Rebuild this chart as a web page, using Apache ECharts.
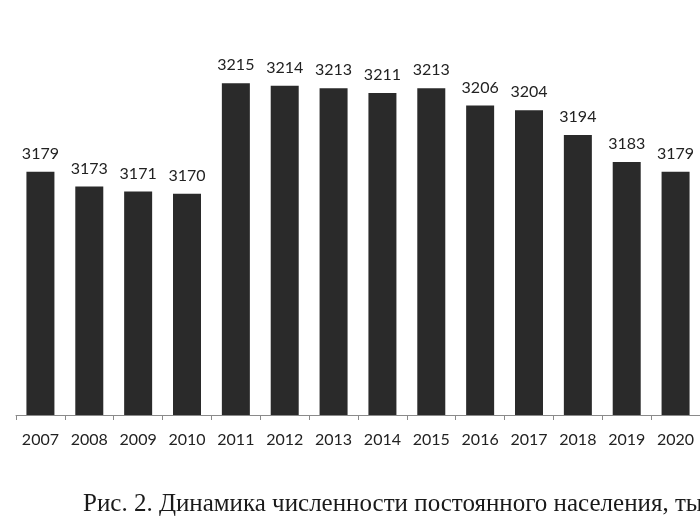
<!DOCTYPE html>
<html>
<head>
<meta charset="UTF-8">
<title>Численность населения</title>
<script src="https://cdn.jsdelivr.net/npm/echarts@6/dist/echarts.min.js"></script>
<style>
  html, body { margin: 0; padding: 0; background: #fff; }
  #chart { width: 700px; height: 530px; }
</style>
</head>
<body>
<div id="chart"></div>
<script type="text/javascript">
	// годы и численность, тыс. чел.
	var years = ['2007','2008','2009','2010','2011','2012','2013','2014','2015','2016','2017','2018','2019','2020'];
	var population = [3179, 3173, 3171, 3170, 3215, 3214, 3213, 3211, 3213, 3206, 3204, 3194, 3183, 3179];
	var caption = 'Рис. 2. Динамика численности постоянного населения, тыс. чел.';

	var chart = echarts.init(document.getElementById('chart'));
	var option = {
		animation: false,
		title: {
			text: caption,
			left: 78,
			top: 487,
			textStyle: {
				fontFamily: 'Liberation Serif',
				fontSize: 25,
				fontWeight: 'normal',
				color: '#1a1a1a'
			}
		},
		grid: {
			left: 16,
			top: 71,
			width: 686,
			bottom: 115,
			containLabel: false
		},
		xAxis: {
			type: 'category',
			data: years,
			axisLine: { lineStyle: { color: '#8a8a8a', width: 1 } },
			axisTick: { show: true, length: 5, lineStyle: { color: '#8a8a8a' } },
			axisLabel: {
				fontFamily: 'Lato',
				fontSize: 16,
				color: '#222',
				margin: 17
			}
		},
		yAxis: {
			type: 'value',
			min: 3080,
			max: 3220,
			show: false,
			splitLine: { show: false }
		},
		series: [{
			type: 'bar',
			data: population,
			barWidth: 28,
			itemStyle: { color: '#2a2a2a' },
			label: {
				show: true,
				position: 'top',
				distance: 10,
				fontFamily: 'Lato',
				fontSize: 16,
				color: '#222'
			}
		}]
	};
	chart.setOption(option);
</script>
</body>
</html>
